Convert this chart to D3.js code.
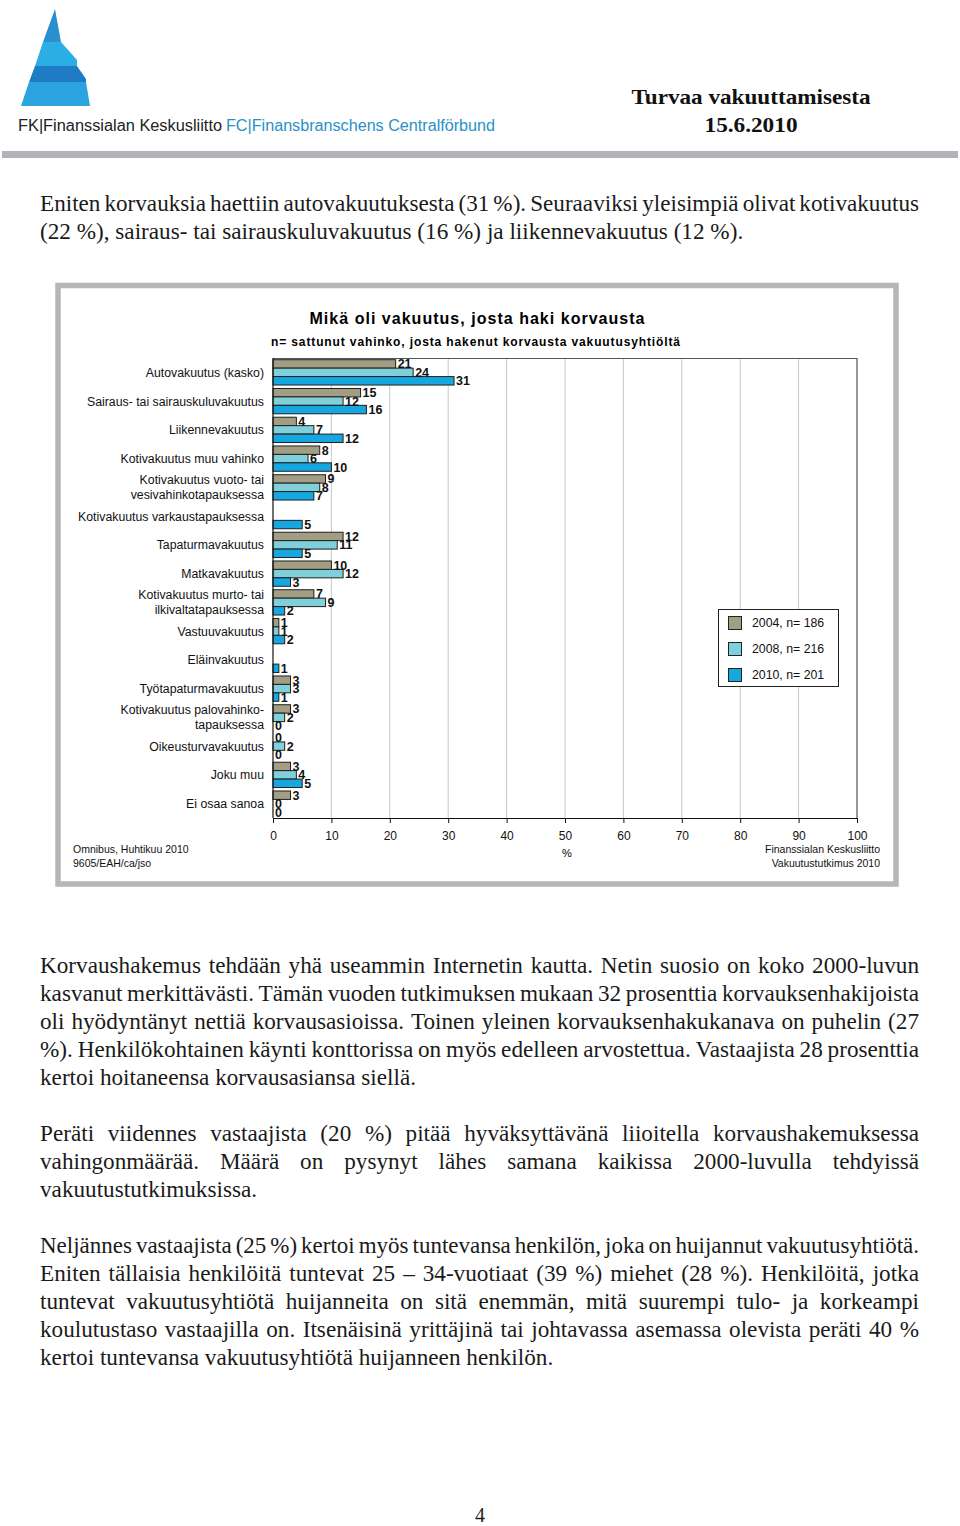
<!DOCTYPE html>
<html><head><meta charset="utf-8">
<script src="https://cdn.jsdelivr.net/npm/d3@7"></script>
<style>body{margin:0;background:#fff}svg{display:block}</style>
</head><body>
<script>
// ---------- data ----------
const categories = [
  "Autovakuutus (kasko)",
  "Sairaus- tai sairauskuluvakuutus",
  "Liikennevakuutus",
  "Kotivakuutus muu vahinko",
  "Kotivakuutus vuoto- tai\nvesivahinkotapauksessa",
  "Kotivakuutus varkaustapauksessa",
  "Tapaturmavakuutus",
  "Matkavakuutus",
  "Kotivakuutus murto- tai\nilkivaltatapauksessa",
  "Vastuuvakuutus",
  "Eläinvakuutus",
  "Työtapaturmavakuutus",
  "Kotivakuutus palovahinko-\ntapauksessa",
  "Oikeusturvavakuutus",
  "Joku muu",
  "Ei osaa sanoa"
];
const values2004 = [21, 15, 4, 8, 9, null, 12, 10, 7, 1, null, 3, 3, 0, 3, 3];
const values2008 = [24, 12, 7, 6, 8, null, 11, 12, 9, 1, null, 3, 2, 2, 4, 0];
const values2010 = [31, 16, 12, 10, 7, 5, 5, 3, 2, 2, 1, 1, 0, 0, 5, 0];
const seriesNames = ["2004, n= 186", "2008, n= 216", "2010, n= 201"];
const seriesColors = ["#a29e84", "#7fd0da", "#16a6e0"];
const tickValues = [0, 10, 20, 30, 40, 50, 60, 70, 80, 90, 100];

const chartTitle = "Mikä oli vakuutus, josta haki korvausta";
const chartSubtitle = "n= sattunut vahinko, josta hakenut korvausta vakuutusyhtiöltä";
const axisTitle = "%";
const sourceLeft = ["Omnibus, Huhtikuu 2010", "9605/EAH/ca/jso"];
const sourceRight = ["Finanssialan Keskusliitto", "Vakuutustutkimus 2010"];

const headerTitle = ["Turvaa vakuuttamisesta", "15.6.2010"];
const orgNameFK = "FK|Finanssialan Keskusliitto";
const orgNameFC = "FC|Finansbranschens Centralförbund";

const para1 = [
  "Eniten korvauksia haettiin autovakuutuksesta (31 %). Seuraaviksi yleisimpiä olivat kotivakuutus",
  "(22 %), sairaus- tai sairauskuluvakuutus (16 %) ja liikennevakuutus (12 %)."
];
const para2 = [
  "Korvaushakemus tehdään yhä useammin Internetin kautta. Netin suosio on koko 2000-luvun",
  "kasvanut merkittävästi. Tämän vuoden tutkimuksen mukaan 32 prosenttia korvauksenhakijoista",
  "oli hyödyntänyt nettiä korvausasioissa. Toinen yleinen korvauksenhakukanava on puhelin (27",
  "%). Henkilökohtainen käynti konttorissa on myös edelleen arvostettua. Vastaajista 28 prosenttia",
  "kertoi hoitaneensa korvausasiansa siellä."
];
const para3 = [
  "Peräti viidennes vastaajista (20 %) pitää hyväksyttävänä liioitella korvaushakemuksessa",
  "vahingonmäärää. Määrä on pysynyt lähes samana kaikissa 2000-luvulla tehdyissä",
  "vakuutustutkimuksissa."
];
const para4 = [
  "Neljännes vastaajista (25 %) kertoi myös tuntevansa henkilön, joka on huijannut vakuutusyhtiötä.",
  "Eniten tällaisia henkilöitä tuntevat 25 – 34-vuotiaat (39 %) miehet (28 %). Henkilöitä, jotka",
  "tuntevat vakuutusyhtiötä huijanneita on sitä enemmän, mitä suurempi tulo- ja korkeampi",
  "koulutustaso vastaajilla on. Itsenäisinä yrittäjinä tai johtavassa asemassa olevista peräti 40 %",
  "kertoi tuntevansa vakuutusyhtiötä huijanneen henkilön."
];
const pageNumber = "4";

// ---------- page ----------
const svg = d3.select("body").append("svg").attr("width", 960).attr("height", 1526);
const SANS = "'Liberation Sans', Arial, sans-serif";
const SERIF = "'Liberation Serif', 'Times New Roman', serif";
const BODY_SIZE = 23.2;

// logo
const logo = svg.append("g");
const logoPolys = [
  {pts: [[55,9],[61,42],[43,42]], c: "#2a8fd0"},
  {pts: [[43,42],[61,42],[77,60],[77,66],[35,66]], c: "#2aaee4"},
  {pts: [[35,66],[77,66],[86,79],[86,82],[29,82]], c: "#1f7cc4"},
  {pts: [[29,82],[86,82],[90,106],[21,106]], c: "#2ba3de"}
];
logo.selectAll("polygon").data(logoPolys).join("polygon")
  .attr("points", d => d.pts.map(p => p.join(",")).join(" "))
  .attr("fill", d => d.c);

svg.append("text").attr("x", 18).attr("y", 131)
  .attr("font-family", "'Liberation Sans Narrow', " + SANS).attr("font-size", 16)
  .attr("fill", "#222").attr("textLength", 204).attr("lengthAdjust", "spacingAndGlyphs")
  .text(orgNameFK);
svg.append("text").attr("x", 226).attr("y", 131)
  .attr("font-family", "'Liberation Sans Narrow', " + SANS).attr("font-size", 16)
  .attr("fill", "#2a90c8").attr("textLength", 269).attr("lengthAdjust", "spacingAndGlyphs")
  .text(orgNameFC);

svg.append("text").attr("x", 751).attr("y", 104).attr("text-anchor", "middle")
  .attr("font-family", SERIF).attr("font-weight", "bold").attr("font-size", 21)
  .attr("fill", "#111").attr("textLength", 239).attr("lengthAdjust", "spacingAndGlyphs")
  .text(headerTitle[0]);
svg.append("text").attr("x", 751).attr("y", 132).attr("text-anchor", "middle")
  .attr("font-family", SERIF).attr("font-weight", "bold").attr("font-size", 21)
  .attr("fill", "#111").attr("textLength", 93).attr("lengthAdjust", "spacingAndGlyphs")
  .text(headerTitle[1]);

svg.append("rect").attr("x", 2).attr("y", 151).attr("width", 956).attr("height", 7).attr("fill", "#b2b3b9");

// ---------- body paragraphs ----------
const LEFT = 40, RIGHT = 919;
function drawParagraph(lines, firstCenterY) {
  lines.forEach((line, li) => {
    const baseY = firstCenterY + li * 28 + 7;
    const justify = li < lines.length - 1;
    const g = svg.append("g");
    if (!justify) {
      g.append("text").attr("x", LEFT).attr("y", baseY)
        .attr("font-family", SERIF).attr("font-size", BODY_SIZE).attr("fill", "#1a1a1a").text(line);
      return;
    }
    const words = line.split(" ");
    const nodes = words.map(w => g.append("text").attr("y", baseY)
      .attr("font-family", SERIF).attr("font-size", BODY_SIZE).attr("fill", "#1a1a1a").text(w));
    let widths = nodes.map(n => n.node().getComputedTextLength());
    let total = d3.sum(widths);
    let gap = (RIGHT - LEFT - total) / (words.length - 1);
    if (gap < 4) {
      const k = (RIGHT - LEFT - 4 * (words.length - 1)) / total;
      nodes.forEach(n => n.attr("font-size", BODY_SIZE).attr("transform", null));
      nodes.forEach((n, i) => n.attr("textLength", widths[i] * k).attr("lengthAdjust", "spacingAndGlyphs"));
      widths = widths.map(w => w * k);
      total = d3.sum(widths);
      gap = (RIGHT - LEFT - total) / (words.length - 1);
    }
    let cx = LEFT;
    nodes.forEach((n, i) => { n.attr("x", cx); cx += widths[i] + gap; });
  });
}
drawParagraph(para1, 204);
drawParagraph(para2, 966);
drawParagraph(para3, 1134);
drawParagraph(para4, 1246);

svg.append("text").attr("x", 480).attr("y", 1522).attr("text-anchor", "middle")
  .attr("font-family", SERIF).attr("font-size", 20).attr("fill", "#222").text(pageNumber);

// ---------- chart frame ----------
svg.append("rect").attr("x", 58).attr("y", 285.5).attr("width", 838).attr("height", 598.5)
  .attr("fill", "#fff").attr("stroke", "#b6b6b6").attr("stroke-width", 5.5);

svg.append("text").attr("x", 477).attr("y", 324).attr("text-anchor", "middle")
  .attr("font-family", SANS).attr("font-weight", "bold").attr("font-size", 16)
  .attr("textLength", 335).attr("lengthAdjust", "spacing").text(chartTitle);
svg.append("text").attr("x", 475.5).attr("y", 346).attr("text-anchor", "middle")
  .attr("font-family", SANS).attr("font-weight", "bold").attr("font-size", 12)
  .attr("textLength", 409).attr("lengthAdjust", "spacing").text(chartSubtitle);

const x = d3.scaleLinear().domain([0, 100]).range([273, 857]);
const y = d3.scaleBand().domain(d3.range(categories.length)).range([358, 818])
  .paddingInner(0.12).paddingOuter(0.06);
const ys = d3.scaleBand().domain(d3.range(3)).range([0, y.bandwidth()]);
const series = [values2004, values2008, values2010];

// gridlines
svg.append("g").selectAll("line").data(tickValues.filter(t => t > 0 && t < 100)).join("line")
  .attr("x1", d => x(d)).attr("x2", d => x(d)).attr("y1", 358).attr("y2", 818)
  .attr("stroke", "#c8c8c8").attr("stroke-width", 1);
// frame top/right
svg.append("path").attr("d", `M${x(0)},358.5H${x(100)}V818`)
  .attr("fill", "none").attr("stroke", "#555").attr("stroke-width", 1.2);

// bars
const barG = svg.append("g");
series.forEach((vals, s) => {
  barG.append("g").selectAll("rect")
    .data(vals.map((v, i) => ({v, i})).filter(d => d.v !== null && d.v > 0))
    .join("rect")
    .attr("x", x(0)).attr("y", d => y(d.i) + ys(s))
    .attr("width", d => x(d.v) - x(0)).attr("height", ys.bandwidth())
    .attr("fill", seriesColors[s]).attr("stroke", "#1f1f1f").attr("stroke-width", 1);
});
series.forEach((vals, s) => {
  barG.append("g").selectAll("text")
    .data(vals.map((v, i) => ({v, i})).filter(d => d.v !== null))
    .join("text")
    .attr("x", d => x(d.v) + 2).attr("y", d => y(d.i) + ys(s) + ys.bandwidth() / 2)
    .attr("dy", "0.36em")
    .attr("font-family", SANS).attr("font-weight", "bold").attr("font-size", 12.5).attr("fill", "#111")
    .text(d => d.v);
});

// axes
const xAxis = d3.axisBottom(x).tickValues(tickValues).tickSizeInner(5).tickSizeOuter(0).tickPadding(8);
const axG = svg.append("g").attr("transform", "translate(0,818)").call(xAxis);
axG.select(".domain").attr("stroke", "#111");
axG.selectAll(".tick line").attr("stroke", "#111");
axG.selectAll(".tick text").attr("font-family", SANS).attr("font-size", 12).attr("fill", "#111");
svg.append("line").attr("x1", x(0)).attr("x2", x(0)).attr("y1", 358).attr("y2", 818)
  .attr("stroke", "#111").attr("stroke-width", 1.2);

svg.append("text").attr("x", 567).attr("y", 857).attr("text-anchor", "middle")
  .attr("font-family", SANS).attr("font-size", 11).text(axisTitle);

// category labels
const catG = svg.append("g");
categories.forEach((c, i) => {
  const lines = c.split("\n");
  const cy = y(i) + y.bandwidth() / 2;
  const t = catG.append("text").attr("text-anchor", "end")
    .attr("font-family", SANS).attr("font-size", 12.3).attr("fill", "#111");
  lines.forEach((ln, k) => {
    t.append("tspan").attr("x", 264)
      .attr("y", cy + (k - (lines.length - 1) / 2) * 15).attr("dy", "0.36em").text(ln);
  });
});

// legend
const leg = svg.append("g");
leg.append("rect").attr("x", 718.5).attr("y", 609.5).attr("width", 120).attr("height", 77)
  .attr("fill", "#fff").attr("stroke", "#222").attr("stroke-width", 1);
seriesNames.forEach((n, i) => {
  const cy = 623 + i * 26;
  leg.append("rect").attr("x", 728.5).attr("y", cy - 6.5).attr("width", 13).attr("height", 13)
    .attr("fill", seriesColors[i]).attr("stroke", "#222").attr("stroke-width", 1);
  leg.append("text").attr("x", 752).attr("y", cy).attr("dy", "0.36em")
    .attr("font-family", SANS).attr("font-size", 12.3).attr("fill", "#111").text(n);
});

// sources
sourceLeft.forEach((s, i) => {
  svg.append("text").attr("x", 73).attr("y", 853 + i * 14)
    .attr("font-family", SANS).attr("font-size", 10.5).attr("fill", "#111").text(s);
});
sourceRight.forEach((s, i) => {
  svg.append("text").attr("x", 880).attr("y", 853 + i * 14).attr("text-anchor", "end")
    .attr("font-family", SANS).attr("font-size", 10.5).attr("fill", "#111").text(s);
});
</script>
</body></html>
